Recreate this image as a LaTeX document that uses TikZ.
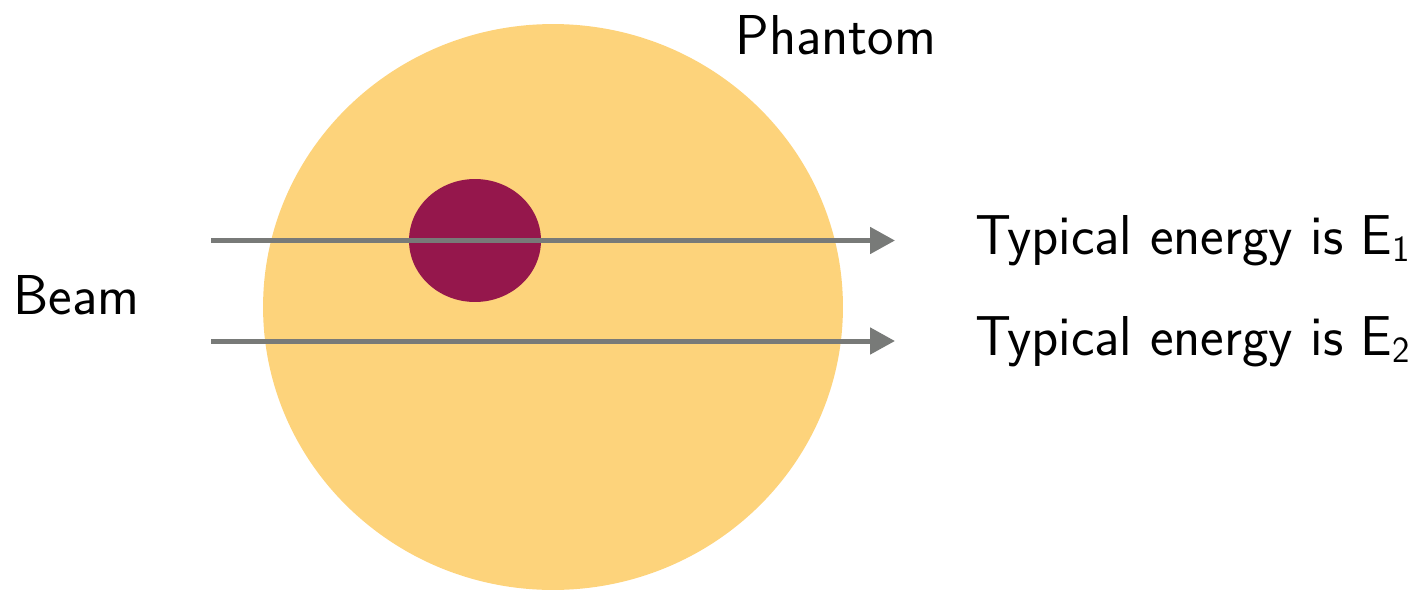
\documentclass[tikz,border=0pt]{standalone}
\usepackage{fontspec}
\usetikzlibrary{arrows.meta,shapes.geometric}
\definecolor{phyellow}{RGB}{253,211,123}
\definecolor{tumor}{RGB}{149,23,76}
\definecolor{beamgray}{RGB}{120,122,120}
\newcommand{\lowsub}[1]{\raisebox{-4pt}{\fontsize{21}{24}\selectfont #1}}
\begin{document}
\begin{tikzpicture}[x=0.02cm,y=-0.02cm,
  lbl/.style={inner sep=0pt,anchor=base west,font=\sffamily\fontsize{32}{38}\selectfont},
  beamline/.style={draw=beamgray,line width=0.1cm,-{Triangle[length=0.5cm,width=0.52cm]}}]
\useasboundingbox (0,0) rectangle (1422,595);
\node[fill=phyellow,ellipse,minimum width=11.6cm,minimum height=11.32cm,inner sep=0pt] (phantomdisc) at (553,307) {};
\node[fill=tumor,ellipse,minimum width=2.64cm,minimum height=2.46cm,inner sep=0pt] (tumor) at (475,240.5) {};
\coordinate (s1) at (211,240.5);
\coordinate (e1) at (895,240.5);
\coordinate (s2) at (211,341);
\coordinate (e2) at (895,341);
\draw[beamline] (s1) -- (e1);
\draw[beamline] (s2) -- (e2);
\node[lbl] (phantom) at (735,54) {Phantom};
\node[lbl] (beam) at (13,314) {Beam};
\node[lbl] (t1) at (975,254) {Typical energy is E\lowsub{1}};
\node[lbl] (t2) at (975,355) {Typical energy is E\lowsub{2}};
\end{tikzpicture}
\end{document}
